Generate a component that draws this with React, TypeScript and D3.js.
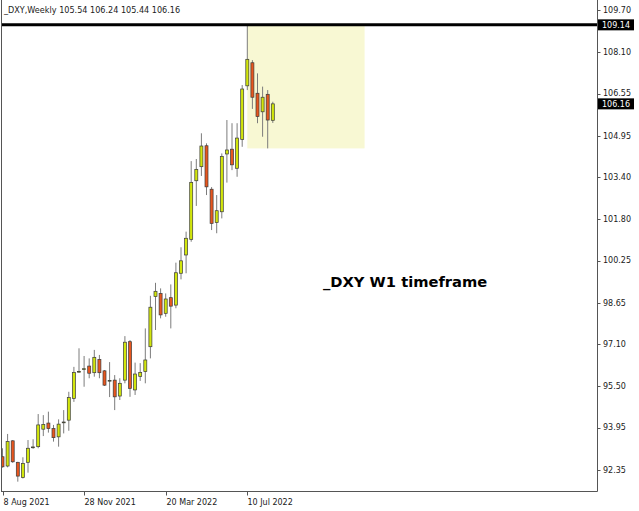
import React from "react";
import * as d3 from "d3";

// Weekly bars (week start, Sunday)
const weeks = [
  "2021-08-08", "2021-08-15", "2021-08-22", "2021-08-29", "2021-09-05", "2021-09-12",
  "2021-09-19", "2021-09-26", "2021-10-03", "2021-10-10", "2021-10-17", "2021-10-24",
  "2021-10-31", "2021-11-07", "2021-11-14", "2021-11-21", "2021-11-28", "2021-12-05",
  "2021-12-12", "2021-12-19", "2021-12-26", "2022-01-02", "2022-01-09", "2022-01-16",
  "2022-01-23", "2022-01-30", "2022-02-06", "2022-02-13", "2022-02-20", "2022-02-27",
  "2022-03-06", "2022-03-13", "2022-03-20", "2022-03-27", "2022-04-03", "2022-04-10",
  "2022-04-17", "2022-04-24", "2022-05-01", "2022-05-08", "2022-05-15", "2022-05-22",
  "2022-05-29", "2022-06-05", "2022-06-12", "2022-06-19", "2022-06-26", "2022-07-03",
  "2022-07-10", "2022-07-17", "2022-07-24", "2022-07-31", "2022-08-07", "2022-08-14",
];

const opens = [
  92.85, 92.5, 93.45, 92.64, 92.07, 92.64, 93.2, 93.23, 93.89, 94.12, 93.91, 93.6,
  94.14, 94.23, 95.05, 96.06, 96.16, 96.27, 96.02, 96.52, 96.09, 95.72, 95.74, 95.14,
  95.74, 97.19, 95.37, 95.88, 96.06, 97.0, 98.89, 99.01, 98.26, 98.85, 98.57, 99.77,
  100.46, 101.05, 103.26, 103.79, 104.58, 102.94, 101.68, 102.09, 104.27, 104.45, 103.73, 104.82,
  106.84, 107.71, 106.56, 105.86, 106.52, 105.54,
];
const highs = [
  93.17, 93.71, 93.48, 92.66, 92.83, 93.48, 93.51, 94.46, 94.42, 94.55, 94.05, 94.26,
  94.61, 95.3, 96.24, 96.94, 96.65, 96.56, 96.88, 96.69, 96.12, 96.42, 95.93, 95.81,
  97.4, 97.25, 96.4, 96.38, 97.69, 98.92, 99.41, 99.2, 99.01, 99.35, 100.17, 100.75,
  101.34, 104.0, 104.08, 105.05, 104.67, 103.02, 102.72, 104.29, 105.55, 105.43, 105.43, 106.87,
  109.14, 107.81, 107.31, 106.81, 106.68, 106.24,
];
const lows = [
  92.44, 92.45, 92.62, 91.91, 92.03, 92.25, 93.15, 93.17, 93.63, 93.76, 93.42, 93.23,
  93.73, 93.83, 94.92, 96.02, 95.49, 95.81, 95.87, 95.81, 95.52, 95.1, 94.61, 94.99,
  95.62, 95.11, 95.18, 95.71, 95.62, 96.56, 97.63, 98.07, 98.13, 97.69, 98.45, 99.54,
  99.77, 100.96, 102.31, 103.44, 102.72, 101.4, 101.28, 101.84, 103.19, 103.66, 103.41, 104.54,
  106.68, 105.97, 105.43, 104.92, 104.48, 105.44,
];
const closes = [
  92.47, 93.42, 92.66, 92.12, 92.6, 93.17, 93.22, 94.05, 94.07, 93.91, 93.57, 94.08,
  94.16, 95.08, 96.03, 96.07, 96.17, 96.0, 96.6, 96.02, 95.55, 95.73, 95.11, 95.62,
  97.17, 95.43, 95.97, 96.03, 96.5, 98.49, 99.09, 98.2, 98.8, 98.53, 99.79, 100.24,
  101.09, 103.2, 103.69, 104.57, 103.03, 101.65, 102.13, 104.18, 104.42, 103.86, 104.87, 106.72,
  107.84, 106.41, 105.68, 106.41, 105.55, 106.16,
];

const priceTicks = [109.7, 108.1, 106.55, 104.95, 103.4, 101.8, 100.25, 98.65, 97.1, 95.5, 93.95, 92.35];
const dateTicks = ["2021-08-08", "2021-11-28", "2022-03-20", "2022-07-10"];

// Highlighted zone after the July high
const zoneStart = "2022-07-10";
const zoneEnd = "2022-12-18";
const zoneTop = 109.14;
const zoneBottom = 104.48;

const symbolTitle = "_DXY,Weekly";
const chartNote = "_DXY W1 timeframe";

const W = 639;
const H = 511;
const axisX = 597.5;
const axisY = 491.5;
const FONT = "'DejaVu Sans', sans-serif";

const parse = d3.utcParse("%Y-%m-%d");
const fmtDate = d3.utcFormat("%-d %b %Y");

export default function App() {
  const dates = weeks.map((w) => parse(w) as Date);
  const x = d3
    .scaleUtc()
    .domain([dates[0], dates[dates.length - 1]])
    .range([2.5, 2.5 + 5.1 * (dates.length - 1)]);
  const y = d3.scaleLinear().domain([92.35, 109.7]).range([470, 10]);

  const last = closes.length - 1;
  const header = `${symbolTitle}  ${opens[last].toFixed(2)} ${highs[last].toFixed(2)} ${lows[last].toFixed(2)} ${closes[last].toFixed(2)}`;

  const bodyW = 3;
  const bull = "#d2e60c";
  const bear = "#e8561e";

  const zx0 = x(parse(zoneStart) as Date);
  const zx1 = x(parse(zoneEnd) as Date);

  const markers = [
    { v: zoneTop, key: "hi" },
    { v: closes[last], key: "last" },
  ];

  return (
    <svg
      width={W}
      height={H}
      style={{ position: "absolute", left: 0, top: 0, display: "block", background: "#fff" }}
      fontFamily={FONT}
    >
      <defs>
        <clipPath id="plot">
          <rect x={1.5} y={0} width={axisX - 1.5} height={axisY} />
        </clipPath>
      </defs>
      <rect x={0} y={0} width={W} height={H} fill="#fff" />

      <g clipPath="url(#plot)">
        {/* zone box */}
        <rect
          x={zx0}
          y={y(zoneTop)}
          width={zx1 - zx0}
          height={y(zoneBottom) - y(zoneTop)}
          fill="#f8f8d3"
        />
        {/* candles */}
        {dates.map((d, i) => {
          const cx = x(d);
          const o = opens[i];
          const c = closes[i];
          const up = c >= o;
          const top = y(Math.max(o, c));
          const bot = y(Math.min(o, c));
          const h = Math.max(bot - top, 0.8);
          return (
            <g key={weeks[i]}>
              <line x1={cx} x2={cx} y1={y(highs[i])} y2={y(lows[i])} stroke="#7c7c7c" strokeWidth={1} />
              <rect
                x={cx - bodyW / 2}
                y={top}
                width={bodyW}
                height={h}
                fill={up ? bull : bear}
                stroke="#3a3a3a"
                strokeWidth={0.7}
              />
            </g>
          );
        })}
        {/* high level line */}
        <line x1={0} x2={axisX} y1={y(zoneTop)} y2={y(zoneTop)} stroke="#000" strokeWidth={3} />
      </g>

      {/* frame */}
      <line x1={1.5} x2={1.5} y1={0} y2={axisY} stroke="#555" strokeWidth={1} />
      <line x1={1} x2={axisX} y1={axisY} y2={axisY} stroke="#555" strokeWidth={1} />
      <line x1={axisX} x2={axisX} y1={0} y2={axisY} stroke="#555" strokeWidth={1} />

      {/* price axis */}
      {priceTicks.map((v) => (
        <g key={v}>
          <line x1={axisX} x2={axisX + 3} y1={Math.round(y(v)) + 0.5} y2={Math.round(y(v)) + 0.5} stroke="#555" />
          <text x={603} y={y(v)} dy="0.35em" fontSize={8} fill="#1a1a1a">
            {v.toFixed(2)}
          </text>
        </g>
      ))}
      {markers.map((m) => (
        <g key={m.key}>
          <rect x={598} y={y(m.v) - 5.5} width={36} height={11} fill="#000" />
          <text x={602} y={y(m.v)} dy="0.35em" fontSize={8} fill="#fff">
            {m.v.toFixed(2)}
          </text>
        </g>
      ))}

      {/* time axis */}
      {dateTicks.map((t) => {
        const tx = Math.round(x(parse(t) as Date)) + 0.5;
        return (
          <g key={t}>
            <line x1={tx} x2={tx} y1={axisY} y2={axisY + 4} stroke="#555" />
            <text x={tx} y={505} fontSize={8} fill="#1a1a1a">
              {fmtDate(parse(t) as Date)}
            </text>
          </g>
        );
      })}

      {/* header */}
      <text x={4} y={12.5} fontSize={8.1} fill="#1a1a1a">
        {header}
      </text>

      <text x={323} y={287} fontSize={14.7} fontWeight="bold" fill="#000">
        {chartNote}
      </text>
    </svg>
  );
}
